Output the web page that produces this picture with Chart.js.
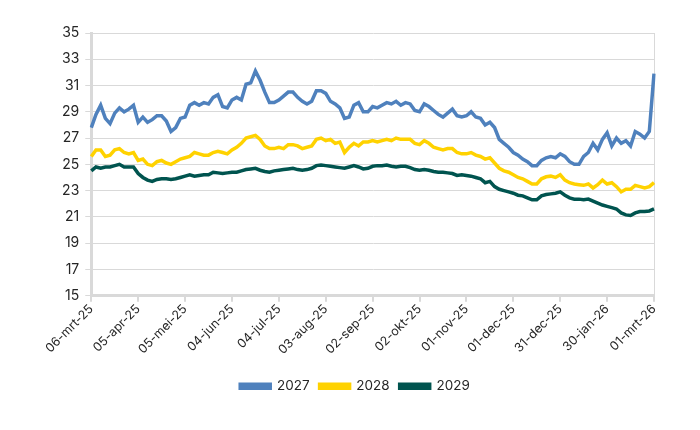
<!DOCTYPE html>
<html>
<head>
<meta charset="utf-8">
<script src="https://cdn.jsdelivr.net/npm/chart.js@4"></script>
<style>
  body { margin: 0; background: #fff; }
  #wrap { width: 700px; height: 430px; }
</style>
</head>
<body>
<div id="wrap"><canvas id="chart" width="700" height="430"></canvas></div>
<script>
// one point every 3 days, from 06-mrt-25 to 01-mrt-26
const tickLabels = ['06-mrt-25', '05-apr-25', '05-mei-25', '04-jun-25', '04-jul-25', '03-aug-25',
    '02-sep-25', '02-okt-25', '01-nov-25', '01-dec-25', '31-dec-25', '30-jan-26', '01-mrt-26'];

const seriesNames = ['2027', '2028', '2029'];

const values2027 = [
    27.8, 28.8, 29.5, 28.5, 28.1, 28.9, 29.3, 29.0, 29.2, 29.5,
    28.2, 28.6, 28.2, 28.4, 28.7, 28.7, 28.3, 27.5, 27.8, 28.5,
    28.6, 29.5, 29.7, 29.5, 29.7, 29.6, 30.1, 30.3, 29.4, 29.3,
    29.9, 30.1, 29.9, 31.1, 31.2, 32.1, 31.4, 30.5, 29.7, 29.7,
    29.9, 30.2, 30.5, 30.5, 30.1, 29.8, 29.6, 29.8, 30.6, 30.6,
    30.4, 29.8, 29.6, 29.3, 28.5, 28.6, 29.5, 29.7, 29.0, 29.0,
    29.4, 29.3, 29.5, 29.7, 29.6, 29.8, 29.5, 29.7, 29.6, 29.1,
    29.0, 29.6, 29.4, 29.1, 28.8, 28.6, 28.9, 29.2, 28.7, 28.6,
    28.7, 29.0, 28.6, 28.5, 28.0, 28.2, 27.8, 26.9, 26.6, 26.3,
    25.9, 25.7, 25.4, 25.2, 24.9, 24.9, 25.3, 25.5, 25.6, 25.5,
    25.8, 25.6, 25.2, 25.0, 25.0, 25.6, 25.9, 26.6, 26.1, 26.9,
    27.4, 26.4, 27.0, 26.6, 26.8, 26.4, 27.5, 27.3, 27.0, 27.5,
    31.9
];

const values2028 = [
    25.6, 26.1, 26.1, 25.6, 25.7, 26.1, 26.2, 25.9, 25.8, 25.9,
    25.3, 25.4, 25.0, 24.9, 25.2, 25.3, 25.1, 25.0, 25.2, 25.4,
    25.5, 25.6, 25.9, 25.8, 25.7, 25.7, 25.9, 26.0, 25.9, 25.8,
    26.1, 26.3, 26.6, 27.0, 27.1, 27.2, 26.9, 26.4, 26.2, 26.2,
    26.3, 26.2, 26.5, 26.5, 26.4, 26.2, 26.3, 26.4, 26.9, 27.0,
    26.8, 26.9, 26.6, 26.7, 25.9, 26.3, 26.6, 26.4, 26.7, 26.7,
    26.8, 26.7, 26.8, 26.9, 26.8, 27.0, 26.9, 26.9, 26.9, 26.6,
    26.5, 26.8, 26.6, 26.3, 26.2, 26.1, 26.2, 26.2, 25.9, 25.8,
    25.8, 25.9, 25.7, 25.6, 25.4, 25.5, 25.1, 24.7, 24.5, 24.4,
    24.2, 24.0, 23.9, 23.7, 23.5, 23.5, 23.9, 24.05, 24.1, 24.0,
    24.2, 23.8, 23.6, 23.5, 23.45, 23.4, 23.5, 23.2, 23.45, 23.8,
    23.5, 23.6, 23.3, 22.9, 23.1, 23.1, 23.4, 23.3, 23.2, 23.3,
    23.6
];

const values2029 = [
    24.5, 24.8, 24.7, 24.8, 24.8, 24.9, 25.0, 24.8, 24.8, 24.8,
    24.3, 24.0, 23.8, 23.7, 23.85, 23.9, 23.9, 23.85, 23.9, 24.0,
    24.1, 24.2, 24.1, 24.15, 24.2, 24.2, 24.4, 24.35, 24.3, 24.35,
    24.4, 24.4, 24.5, 24.6, 24.65, 24.7, 24.55, 24.45, 24.4, 24.5,
    24.55, 24.6, 24.65, 24.7, 24.6, 24.55, 24.6, 24.7, 24.9, 24.95,
    24.9, 24.85, 24.8, 24.75, 24.7, 24.8, 24.9, 24.8, 24.65, 24.7,
    24.85, 24.9, 24.9, 24.95, 24.85, 24.8, 24.85, 24.85, 24.75, 24.6,
    24.55, 24.6, 24.55, 24.45, 24.4, 24.4, 24.35, 24.3, 24.15, 24.2,
    24.15, 24.1, 24.0, 23.9, 23.6, 23.7, 23.3, 23.1, 23.0, 22.9,
    22.8, 22.65, 22.6, 22.45, 22.3, 22.3, 22.6, 22.7, 22.75, 22.8,
    22.9, 22.65, 22.45, 22.35, 22.35, 22.3, 22.35, 22.2, 22.05, 21.9,
    21.8, 21.7, 21.6, 21.3, 21.15, 21.1, 21.3, 21.4, 21.4, 21.45,
    21.6
];

const lineColors = ['#4f81bd', '#ffd200', '#00544f'];

// category index for each point (10 points = 30 days between labels)
const pointIndex = values2027.map((v, i) => i);

const gridGray = '#d9d9d9';
const textColor = '#262626';
const fontFamily = 'Inter, "Liberation Sans", sans-serif';

new Chart(document.getElementById('chart'), {
    type: 'line',
    data: {
        labels: pointIndex,
        datasets: [values2027, values2028, values2029].map((vals, k) => ({
            label: seriesNames[k],
            data: vals,
            borderColor: lineColors[k],
            backgroundColor: lineColors[k],
            borderWidth: 3.5,
            pointRadius: 0,
            tension: 0,
            fill: false
        }))
    },
    options: {
        responsive: false,
        animation: false,
        layout: { padding: { left: 56, right: 46, top: 33, bottom: 27 } },
        scales: {
            x: {
                offset: false,
                // extra room between the date labels and the legend
                afterFit: (axis) => { axis.height += 12; },
                grid: {
                    drawOnChartArea: false,
                    drawTicks: true,
                    tickLength: 6,
                    color: gridGray,
                    lineWidth: 2
                },
                border: { color: gridGray, width: 3 },
                ticks: {
                    autoSkip: false,
                    maxRotation: 45,
                    minRotation: 45,
                    padding: 0,
                    color: textColor,
                    font: { family: fontFamily, size: 12.5 },
                    callback: (value, index) => index % 10 === 0 ? tickLabels[index / 10] : null
                }
            },
            y: {
                min: 15,
                max: 35,
                grid: { color: gridGray, lineWidth: 1, tickLength: 6 },
                border: { color: gridGray, width: 3 },
                ticks: {
                    stepSize: 2,
                    padding: 6,
                    color: textColor,
                    font: { family: fontFamily, size: 14 }
                }
            },
            yRight: {
                position: 'right',
                min: 15,
                max: 35,
                grid: { drawOnChartArea: false, drawTicks: false },
                border: { color: gridGray, width: 1 },
                ticks: { display: false }
            }
        },
        plugins: {
            legend: {
                position: 'bottom',
                labels: {
                    boxWidth: 30,
                    boxHeight: 4,
                    padding: 10,
                    color: textColor,
                    font: { family: fontFamily, size: 13.5 }
                }
            },
            tooltip: { enabled: false }
        }
    }
});
</script>
</body>
</html>
